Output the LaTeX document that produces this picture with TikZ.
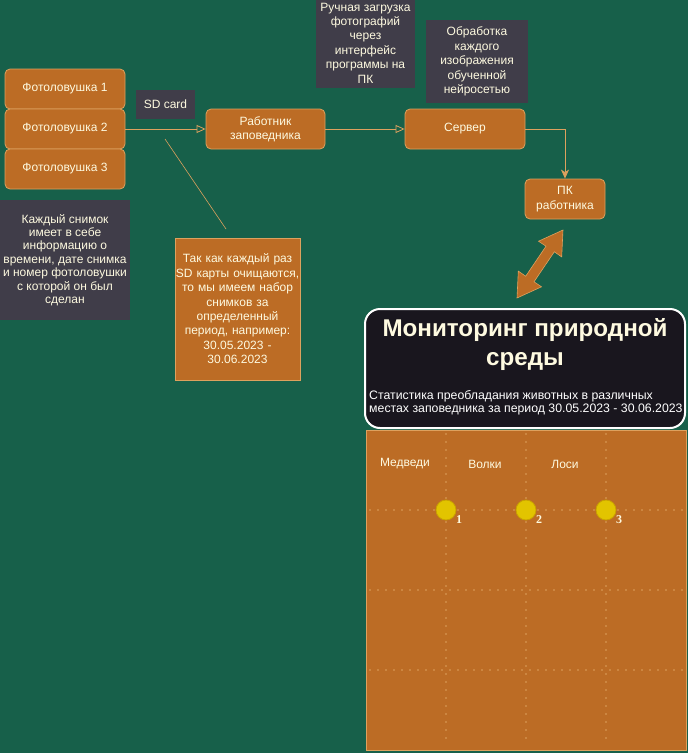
\documentclass[tikz,border=0pt]{standalone}
\usepackage{fontspec}
\setmainfont{Liberation Sans}
\newfontfamily\serifnum{Liberation Serif}
\usetikzlibrary{arrows.meta,calc}
\definecolor{bgc}{HTML}{17604A}
\definecolor{orng}{HTML}{BC6C25}
\definecolor{tanc}{HTML}{DDA15E}
\definecolor{cream}{HTML}{FEFAE0}
\definecolor{darkc}{HTML}{403D49}
\definecolor{blk}{HTML}{19161E}
\definecolor{yel}{HTML}{E2C400}
\definecolor{yeld}{HTML}{C9A200}
\begin{document}
\begin{tikzpicture}[x=1pt,y=-1pt,
  txt/.style={font=\fontsize{12}{14.4}\selectfont, text=cream, align=center, inner sep=0pt},
  box/.style={txt, draw=tanc, fill=orng, rounded corners=5pt, line width=0.8pt},
  note/.style={txt, fill=darkc},
  conn/.style={draw=tanc, line width=0.8pt},
  openarrow/.style={conn, -{Triangle[open,length=9pt,width=8pt]}},
  fillarrow/.style={conn, -{Stealth[length=9pt,width=8pt,inset=2.5pt]}},
  grid line/.style={draw=tanc, line width=1.6pt, line cap=round, dash pattern=on 0pt off 8pt},
  dot/.style={circle, fill=yel, draw=yeld, line width=0.8pt, minimum size=20pt, inner sep=0pt},
  numlab/.style={font=\serifnum\bfseries\fontsize{12}{14}\selectfont, text=cream, inner sep=0pt},
  animal/.style={font=\fontsize{12}{14}\selectfont, text=cream, inner sep=0pt}
]
\fill[bgc] (0,0) rectangle (688,753);
\useasboundingbox (0,0) rectangle (688,753);

% camera traps
\node[box, minimum width=120pt, minimum height=40pt] (f1) at (65,89) {Фотоловушка 1};
\node[box, minimum width=120pt, minimum height=40pt] (f2) at (65,129) {Фотоловушка 2};
\node[box, minimum width=120pt, minimum height=40pt] (f3) at (65,169) {Фотоловушка 3};

\node[note, minimum width=59pt, minimum height=29pt] (sd) at (165.5,104.5) {SD card};

\node[box, minimum width=119pt, minimum height=40pt] (rab) at (265.5,129) {Работник\\заповедника};
\node[box, minimum width=120pt, minimum height=40pt] (srv) at (465,129) {Сервер};
\node[box, minimum width=80pt, minimum height=40pt] (pk) at (565,199) {ПК\\работника};

\node[note, minimum width=99pt, minimum height=90pt] (manual) at (365.5,43) {Ручная загрузка\\фотографий\\через\\интерфейс\\программы на\\ПК};
\node[note, minimum width=102pt, minimum height=83pt] (proc) at (477,61.5) {Обработка\\каждого\\изображения\\обученной\\нейросетью};

\node[note, font=\fontsize{12}{13.4}\selectfont, minimum width=130pt, minimum height=120pt] (info) at (65,260) {Каждый снимок\\имеет в себе\\информацию о\\времени, дате снимка\\и номер фотоловушки\\с которой он был\\сделан};

\node[box, rounded corners=0pt, text width=125pt, minimum height=142pt] (period) at (237.5,309) {Так как каждый раз\\SD карты очищаются,\\то мы имеем набор\\снимков за\\определенный\\период, например:\\30.05.2023 -\\30.06.2023};

% connectors
\draw[openarrow] (f2.east) -- (rab.west);
\draw[openarrow] (rab.east) -- (srv.west);
\draw[fillarrow] (srv.east) -| (pk.north);
\coordinate (la) at (165,139);
\coordinate (lb) at (226,229);
\draw[conn, line width=0.6pt] (la) -- (lb);

% double arrow
\filldraw[fill=orng, draw=tanc, line width=0.6pt]
  (517,298) -- (541.5,286.8) -- (534.0,281.8) -- (554.3,251.8) -- (561.7,256.9)
  -- (563,230) -- (538.5,241.2) -- (546.0,246.2) -- (525.7,276.2) -- (518.3,271.1) -- cycle;

% monitoring title box
\node[draw=white, fill=blk, rounded corners=15pt, line width=2pt, minimum width=320pt, minimum height=119pt, inner sep=0pt] (mon) at (525,368.5) {};
\node[font=\bfseries\fontsize{24.2}{29}\selectfont, text=cream, align=center, inner sep=0pt] (title) at (525,344.5) {Мониторинг природной\\среды};
\node[font=\fontsize{12.3}{13}\selectfont, text=white, align=left, anchor=west, inner sep=0pt] (sub) at (369,403) {Статистика преобладания животных в различных\\местах заповедника за период 30.05.2023 - 30.06.2023};

% grid panel
\node[draw=tanc, fill=orng, line width=0.8pt, minimum width=320pt, minimum height=320pt, inner sep=0pt] (panel) at (526,590) {};
\foreach \x in {446,526,606} \draw[grid line] (\x,434) -- (\x,744);
\foreach \y in {510,590,670} \draw[grid line] (370,\y) -- (682,\y);

\node[animal] (bears) at (405,464) {Медведи};
\node[animal] (wolves) at (485,464) {Волки};
\node[animal] (moose) at (565,464) {Лоси};

\node[dot] (d1) at (446,510) {};
\node[dot] (d2) at (526,510) {};
\node[dot] (d3) at (606,510) {};
\node[numlab] (n1) at (459,520) {1};
\node[numlab] (n2) at (539,520) {2};
\node[numlab] (n3) at (619,520) {3};
\end{tikzpicture}
\end{document}
